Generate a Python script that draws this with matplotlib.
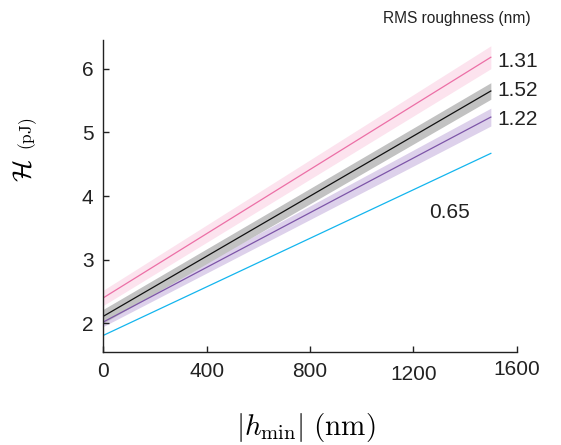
import matplotlib
matplotlib.use("Agg")
import matplotlib.pyplot as plt

plt.rcParams["font.family"] = ["Liberation Sans", "DejaVu Sans"]
plt.rcParams["mathtext.fontset"] = "cm"

# fitted lines: value at |h_min| = 0 and 1500 nm, with band half-width
h_ends = [0, 1500]
roughness = ["0.65", "1.22", "1.52", "1.31"]
H_start = [1.81, 2.02, 2.11, 2.40]
H_end = [4.67, 5.24, 5.65, 6.18]
band_start = [0.0, 0.07, 0.11, 0.12]
band_end = [0.0, 0.14, 0.13, 0.18]
line_colors = ["#13b5ee", "#7d55a8", "#111111", "#ec6fa6"]
band_colors = ["#13b5ee", "#ddd1eb", "#c2c2c2", "#fce3ee"]
xticks = [0, 400, 800, 1200, 1600]
yticks = [2, 3, 4, 5, 6]

fig = plt.figure(figsize=(5.61, 4.45), dpi=100)
ax = fig.add_axes([0.184, 0.209, 0.737, 0.701])

for i in range(len(roughness)):
    y = [H_start[i], H_end[i]]
    lo = [H_start[i] - band_start[i], H_end[i] - band_end[i]]
    hi = [H_start[i] + band_start[i], H_end[i] + band_end[i]]
    if band_end[i] > 0:
        ax.fill_between(h_ends, lo, hi, color=band_colors[i], lw=0, zorder=1)
    ax.plot(h_ends, y, color=line_colors[i], lw=0.9, zorder=2)

# labels at line ends
label_pos = {"1.31": (1525, 6.12), "1.52": (1525, 5.66), "1.22": (1525, 5.20), "0.65": (1262, 3.74)}
for r in roughness:
    ax.text(label_pos[r][0], label_pos[r][1], r, fontsize=15, va="center", ha="left",
            color="#222222", clip_on=False)
fig.text(0.945, 0.958, "RMS roughness (nm)", fontsize=11.2, ha="right", va="center", color="#222222")

ax.set_xlim(0, 1600)
ax.set_ylim(1.55, 6.45)
ax.set_xticks(xticks)
ax.set_yticks(yticks)
ax.tick_params(direction="in", length=4, width=1, labelsize=15, pad=7, colors="#222222")
ax.tick_params(axis="x", pad=7)
# the original tick labels sit at slightly uneven heights
for lab, dy in zip(ax.get_xticklabels(), [0, 0, 0, -0.012, 0.005]):
    lab.set_y(dy)
for s in ["top", "right"]:
    ax.spines[s].set_visible(False)
for s in ["left", "bottom"]:
    ax.spines[s].set_linewidth(1.0)
    ax.spines[s].set_color("#222222")

fig.text(0.545, 0.04, r"$|h_{\min}|\ (\mathrm{nm})$", fontsize=21, ha="center", va="center")
fig.text(0.042, 0.618, r"$\mathcal{H}$", fontsize=19, rotation=90, ha="center", va="center")
fig.text(0.05, 0.70, r"$\mathrm{(pJ)}$", fontsize=12.5, rotation=90, ha="center", va="center")

fig.savefig("out.png", dpi=100)
